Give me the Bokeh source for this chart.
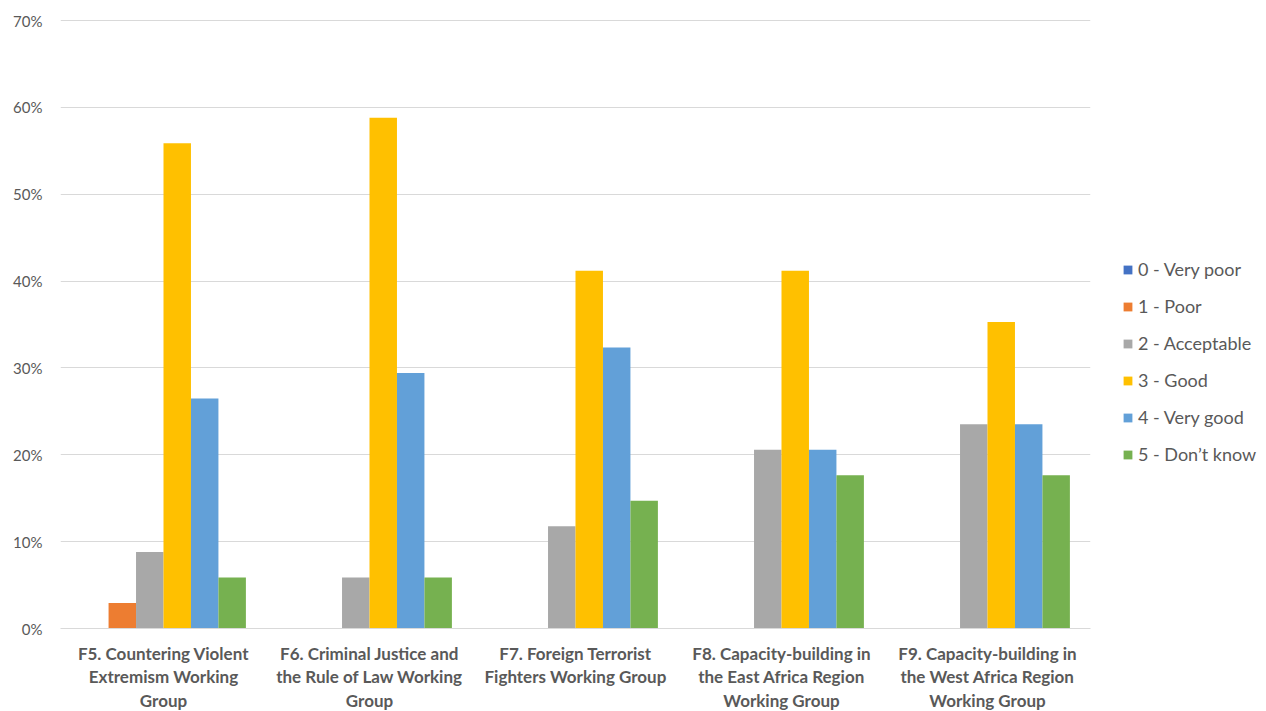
from bokeh.plotting import figure
from bokeh.models import ColumnDataSource, FixedTicker, Legend, LegendItem, NumeralTickFormatter, Range1d
from bokeh.embed import file_html
from bokeh.resources import INLINE

categories = [
    "F5. Countering Violent\nExtremism Working\nGroup",
    "F6. Criminal Justice and\nthe Rule of Law Working\nGroup",
    "F7. Foreign Terrorist\nFighters Working Group",
    "F8. Capacity-building in\nthe East Africa Region\nWorking Group",
    "F9. Capacity-building in\nthe West Africa Region\nWorking Group",
]
series_names = ["0 - Very poor", "1 - Poor", "2 - Acceptable", "3 - Good", "4 - Very good", "5 - Don\u2019t know"]
very_poor = [0.0, 0.0, 0.0, 0.0, 0.0]
poor = [0.0294, 0.0, 0.0, 0.0, 0.0]
acceptable = [0.0882, 0.0588, 0.1176, 0.2059, 0.2353]
good = [0.5588, 0.5882, 0.4118, 0.4118, 0.3529]
very_good = [0.2647, 0.2941, 0.3235, 0.2059, 0.2353]
dont_know = [0.0588, 0.0588, 0.1471, 0.1765, 0.1765]
series_values = [very_poor, poor, acceptable, good, very_good, dont_know]
colors = ["#4472C4", "#ED7D31", "#A8A8A8", "#FFC000", "#62A0D8", "#76B150"]

FONT = "Lato"
TXT = "#595959"

p = figure(frame_width=1030, frame_height=609, output_backend="svg", toolbar_location=None,
           x_range=Range1d(0, len(categories)), y_range=Range1d(0, 0.7012))
p.min_border_left = 60
p.min_border_top = 19
p.min_border_right = 10
p.min_border_bottom = 70
p.outline_line_color = None
p.background_fill_color = "white"
p.border_fill_color = "white"

n = len(series_names)
bw = 0.8 / n
items = []
for k, (name, vals, c) in enumerate(zip(series_names, series_values, colors)):
    xs = [i + 0.5 + (k - (n - 1) / 2) * bw for i in range(len(categories))]
    src = ColumnDataSource(dict(x=xs, top=vals))
    r = p.vbar(x="x", top="top", width=bw, source=src, fill_color=c, line_color=None)
    items.append(LegendItem(label=name, renderers=[r]))

p.xaxis.ticker = FixedTicker(ticks=[i + 0.5 for i in range(len(categories))])
p.xaxis.major_label_overrides = {i + 0.5: c for i, c in enumerate(categories)}
p.xaxis.major_tick_line_color = None
p.xaxis.minor_tick_line_color = None
p.xaxis.axis_line_color = "#D9D9D9"
p.xaxis.axis_line_width = 1
p.xaxis.major_label_text_font = FONT
p.xaxis.major_label_text_font_style = "bold"
p.xaxis.major_label_text_font_size = "17px"
p.xaxis.major_label_text_color = TXT
p.xaxis.major_label_text_line_height = 1.13
p.xaxis.major_label_standoff = 8

p.yaxis.ticker = FixedTicker(ticks=[0, 0.1, 0.2, 0.3, 0.4, 0.5, 0.6, 0.7])
p.yaxis.formatter = NumeralTickFormatter(format="0%")
p.yaxis.major_tick_line_color = None
p.yaxis.minor_tick_line_color = None
p.yaxis.axis_line_color = None
p.yaxis.major_label_text_font = FONT
p.yaxis.major_label_text_font_size = "15px"
p.yaxis.major_label_text_color = TXT
p.yaxis.major_label_standoff = 12

p.xgrid.grid_line_color = None
p.ygrid.grid_line_color = "#D9D9D9"
p.ygrid.grid_line_width = 1

legend = Legend(items=items, location=(32, 163), orientation="vertical")
legend.label_text_font = FONT
legend.label_text_font_size = "18px"
legend.label_text_color = TXT
legend.glyph_width = 11
legend.glyph_height = 11
legend.spacing = 15
legend.label_standoff = 5
legend.border_line_color = None
legend.background_fill_alpha = 0
legend.padding = 0
legend.margin = 0
p.add_layout(legend, "right")

open("out.html", "w").write(file_html(p, INLINE))
